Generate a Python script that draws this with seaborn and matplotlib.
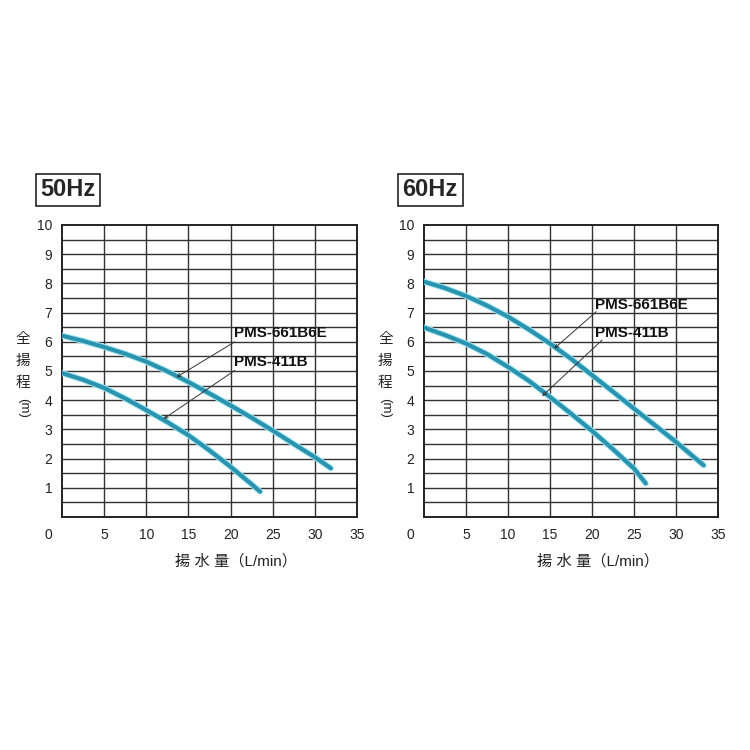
import numpy as np
import pandas as pd
import matplotlib
matplotlib.use("Agg")
import matplotlib.pyplot as plt
import matplotlib.patheffects as pe
import seaborn as sns

# flow (L/min) vs total head (m)
flow_50_661 = [0, 2.5, 5, 7.5, 10, 12.5, 15, 17.5, 20, 22.5, 25, 27.5, 30, 31.9]
head_50_661 = [6.21, 6.03, 5.82, 5.59, 5.32, 4.99, 4.62, 4.23, 3.82, 3.40, 2.96, 2.50, 2.05, 1.67]
flow_50_411 = [0, 2.5, 5, 7.5, 10, 12.5, 15, 17.5, 20, 22.5, 23.5]
head_50_411 = [4.93, 4.70, 4.42, 4.06, 3.66, 3.25, 2.80, 2.28, 1.72, 1.12, 0.87]

flow_60_661 = [0, 2.5, 5, 7.5, 10, 12.5, 15, 17.5, 20, 22.5, 25, 27.5, 30, 33.3]
head_60_661 = [8.06, 7.84, 7.57, 7.24, 6.86, 6.42, 5.94, 5.42, 4.86, 4.29, 3.71, 3.14, 2.57, 1.77]
flow_60_411 = [0, 2.5, 5, 7.5, 10, 12.5, 15, 17.5, 20, 22.5, 25, 26.4]
head_60_411 = [6.49, 6.23, 5.94, 5.58, 5.14, 4.66, 4.11, 3.54, 2.95, 2.32, 1.66, 1.15]

models = ["PMS-661B6E", "PMS-411B"]
titles = ["50Hz", "60Hz"]
x_ticks = [5, 10, 15, 20, 25, 30, 35]
y_ticks = [1, 2, 3, 4, 5, 6, 7, 8, 9, 10]

# leader lines: (start at label, arrow tip) in data coords
notes_50 = [((20.5, 6.0), (13.6, 4.79)), ((20.5, 5.02), (12.06, 3.36))]
notes_60 = [((20.5, 7.03), (15.5, 5.77)), ((21.2, 6.06), (14.07, 4.14))]
label_50 = [(20.4, 6.05), (20.4, 5.06)]
label_60 = [(20.3, 7.03), (20.3, 6.06)]

sns.set_style("white")
plt.rcParams['font.family'] = ['Liberation Sans', 'Noto Sans CJK JP', 'DejaVu Sans']

fig = plt.figure(figsize=(7.5, 7.5), dpi=100)
ax_l = fig.add_axes([62/750, 1-517/750, 295/750, 292/750])
ax_r = fig.add_axes([424/750, 1-517/750, 294/750, 292/750])

panels = [
    (ax_l, titles[0], [(flow_50_661, head_50_661), (flow_50_411, head_50_411)], notes_50, label_50),
    (ax_r, titles[1], [(flow_60_661, head_60_661), (flow_60_411, head_60_411)], notes_60, label_60),
]

for ax, title, curves, notes, lbls in panels:
    ax.set_xlim(0, 35)
    ax.set_ylim(0, 10)
    for v in np.arange(5, 35, 5):
        ax.axvline(v, color='#333333', lw=1.0, zorder=1)
    for h in np.arange(0.5, 10, 0.5):
        ax.axhline(h, color='#333333', lw=1.0, zorder=1)
    for s in ax.spines.values():
        s.set_color('#222222')
        s.set_linewidth(1.4)

    for (fx, hy), name in zip(curves, models):
        df = pd.DataFrame({'flow': fx, 'head': hy})
        sns.lineplot(data=df, x='flow', y='head', ax=ax, color='#2b93ad', lw=3.0,
                     zorder=3, solid_capstyle='round', solid_joinstyle='round',
                     path_effects=[pe.Stroke(linewidth=4.4, foreground='#9fe8f8'), pe.Normal()])

    for (start, tip), pos, name in zip(notes, lbls, models):
        ax.annotate('', xy=tip, xytext=start,
                    arrowprops=dict(arrowstyle='->', color='#333333', lw=0.7,
                                    shrinkA=0, shrinkB=0, mutation_scale=6),
                    zorder=4)
        ax.text(pos[0], pos[1], name, fontsize=11, fontweight='bold',
                ha='left', va='bottom', zorder=5, color='#111111')

    ax.set_xticks(x_ticks)
    ax.set_yticks(y_ticks)
    ax.tick_params(axis='both', length=0, labelsize=10, colors='#222222')
    ax.tick_params(axis='x', pad=8)
    ax.tick_params(axis='y', pad=7)
    ax.set_xlabel('')
    ax.set_ylabel('')
    ax.text(-1.6, -0.6, '0', fontsize=10, ha='center', va='center', color='#222222')

    # title box
    ax.text(-2.55, 11.2, title, fontsize=17, fontweight='bold', ha='left', va='center',
            bbox=dict(facecolor='white', edgecolor='#222222', lw=1.2, boxstyle='square,pad=0.2'))

    # axis labels
    ax.text(20.7, -1.5, '揚 水 量（L/min）', fontsize=11, ha='center', va='center',
            color='#222222')
    for i, ch in enumerate(['全', '揚', '程']):
        ax.text(-4.6, 6.1 - i * 0.75, ch, fontsize=10.5, ha='center', va='center',
                color='#222222')
    ax.text(-4.6, 3.72, '(m)', fontsize=9.5, ha='center', va='center', rotation=-90,
            color='#222222')

fig.savefig('out.png', dpi=100, facecolor='white')
